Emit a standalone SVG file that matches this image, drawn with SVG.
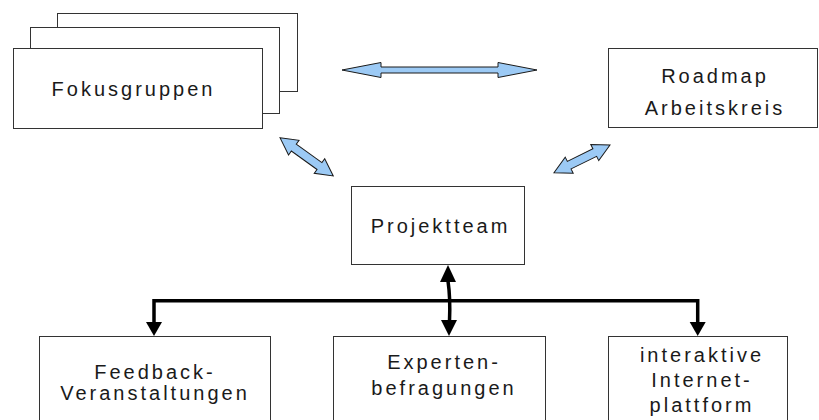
<svg xmlns="http://www.w3.org/2000/svg" width="819" height="420" viewBox="0 0 819 420">
  <style>
    .box { fill: #ffffff; stroke: #333333; stroke-width: 1; }
    .label { font-family: "Liberation Sans", Arial, sans-serif; font-size: 20px; letter-spacing: 3px; fill: #1a1a1a; text-anchor: middle; }
    .blue { fill: #9ccaf5; stroke: #1a1a1a; stroke-width: 1; stroke-linejoin: miter; }
    .wire { fill: none; stroke: #000000; stroke-width: 3.5; }
    .head { fill: #000000; }
  </style>
  <rect width="819" height="420" fill="#ffffff"/>

  <g id="fokusgruppen">
    <rect class="box" x="57.5" y="13.5" width="240" height="78"/>
    <rect class="box" x="30.5" y="27.5" width="249" height="86"/>
    <rect class="box" x="13.5" y="48.5" width="249" height="80"/>
    <text class="label" x="133.5" y="96">Fokusgruppen</text>
  </g>

  <g id="roadmap">
    <rect class="box" x="608.5" y="48.5" width="209" height="79"/>
    <text class="label" x="715" y="83">Roadmap</text>
    <text class="label" x="715" y="115">Arbeitskreis</text>
  </g>

  <g id="projektteam">
    <rect class="box" x="351.5" y="186.5" width="173" height="78"/>
    <text class="label" x="440.5" y="233">Projektteam</text>
  </g>

  <g id="feedback">
    <rect class="box" x="39.5" y="336.5" width="231" height="90"/>
    <text class="label" x="155" y="379">Feedback-</text>
    <text class="label" x="155" y="400">Veranstaltungen</text>
  </g>

  <g id="experten">
    <rect class="box" x="333.5" y="336.5" width="212" height="90"/>
    <text class="label" x="444" y="369">Experten-</text>
    <text class="label" x="444" y="395">befragungen</text>
  </g>

  <g id="internet">
    <rect class="box" x="608.5" y="336.5" width="179" height="90"/>
    <text class="label" x="702" y="362">interaktive</text>
    <text class="label" x="702" y="387">Internet-</text>
    <text class="label" x="702" y="412">plattform</text>
  </g>

  <g id="connectors">
    <!-- blue exchange arrows -->
    <path class="blue" d="M342,70 L381,62.5 L381,67 L498,67 L498,62.5 L537,70 L498,77.5 L498,73 L381,73 L381,77.5 Z"/>
    <path class="blue" d="M0,0 L17,-9 L17,-4.2 L48.6,-4.2 L48.6,-9 L65.6,0 L48.6,9 L48.6,4.2 L17,4.2 L17,9 Z" transform="translate(280,137.7) rotate(35.7)"/>
    <path class="blue" d="M0,0 L17,-9 L17,-4.2 L45.5,-4.2 L45.5,-9 L62.5,0 L45.5,9 L45.5,4.2 L17,4.2 L17,9 Z" transform="translate(610,145) rotate(153.7)"/>

    <!-- distribution from the project team -->
    <path class="wire" d="M154,323 L154,300.7 L697.7,300.7 L697.7,323"/>
    <path class="wire" d="M448,281 Q450.5,298 449.5,321"/>
    <polygon class="head" points="146,322 162,322 154,336"/>
    <polygon class="head" points="689.7,322 705.7,322 697.7,336"/>
    <polygon class="head" points="441,320 457,320 449,336"/>
    <polygon class="head" points="440,282 456,282 448,265"/>
  </g>
</svg>
